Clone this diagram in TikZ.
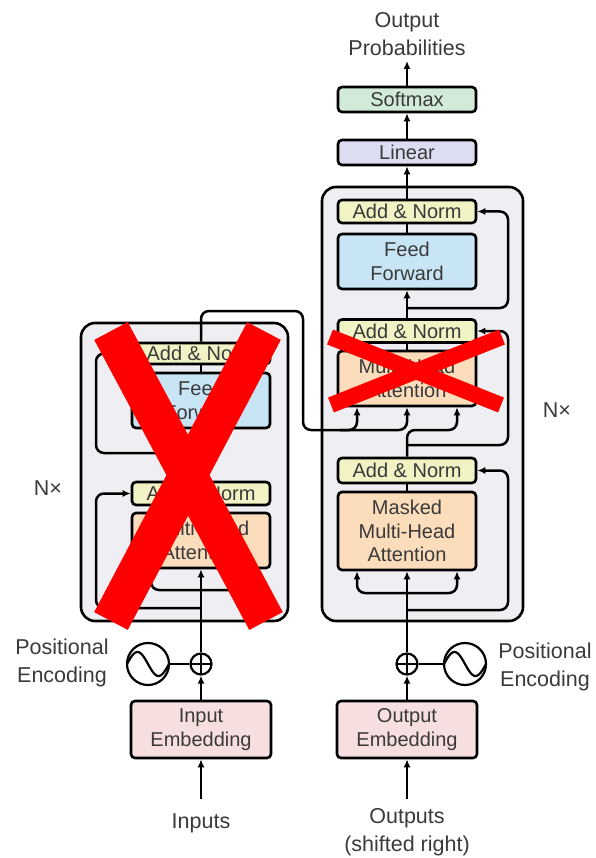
\documentclass[tikz,border=0pt]{standalone}
\usepackage{fontspec}
\setmainfont{Liberation Sans}
\usetikzlibrary{arrows.meta}
\definecolor{anfill}{HTML}{F1F3C4}
\definecolor{fffill}{HTML}{C7E5F5}
\definecolor{mhfill}{HTML}{FBDDBC}
\definecolor{emfill}{HTML}{F7DEDF}
\definecolor{linfill}{HTML}{DCDDF1}
\definecolor{smfill}{HTML}{D2EBD8}
\definecolor{bgfill}{HTML}{EFEFF3}
\definecolor{txt}{HTML}{3A3A3A}
\definecolor{xred}{HTML}{FF0000}
\newcommand{\bxfont}{\fontsize{20}{23.5}\selectfont}
\newcommand{\lbfont}{\fontsize{21.5}{28}\selectfont}
\begin{document}
\begin{tikzpicture}[x=1pt,y=-1pt,
  box/.style={draw=black, line width=2.6pt, rounded corners=4pt, minimum width=138pt,
    inner sep=0pt, align=center, font=\bxfont, text=txt},
  frame/.style={draw=black, line width=2.6pt, rounded corners=14pt, fill=bgfill, inner sep=0pt},
  wire/.style={line width=2.5pt, rounded corners=8pt},
  arr/.style={wire, -{Latex[length=8pt,width=7pt]}},
  lbl/.style={font=\lbfont, text=txt, align=center, inner sep=0pt},
  xstroke/.style={draw=xred, line width=#1}
]
\useasboundingbox (0,0) rectangle (595,858);

% ---------- frames ----------
\node[frame, minimum width=207pt, minimum height=298pt] (encBox) at (184.5,472) {};
\node[frame, minimum width=201pt, minimum height=434pt] (decBox) at (422.5,404) {};

% ---------- encoder blocks ----------
\node[box, fill=anfill, minimum height=21pt] (encAN2) at (201,353.5) {Add \& Norm};
\node[box, fill=fffill, minimum height=55pt] (encFF) at (201,400.5) {Feed\\Forward};
\node[box, fill=anfill, minimum height=23pt] (encAN1) at (201,493.5) {Add \& Norm};
\node[box, fill=mhfill, minimum height=55pt] (encMHA) at (201,540.5) {Multi-Head\\Attention};
\node[box, fill=emfill, minimum width=140pt, minimum height=57pt] (inEmb) at (201,729.5) {Input\\Embedding};
\node[draw, circle, line width=2.2pt, minimum size=21pt, inner sep=0pt] (encPlus) at (201,664) {};
\node[draw, circle, line width=2.2pt, minimum size=42pt, inner sep=0pt] (encSin) at (148,664) {};

% ---------- decoder blocks ----------
\node[box, fill=anfill, minimum height=23pt] (decAN3) at (407,211.5) {Add \& Norm};
\node[box, fill=fffill, minimum height=55pt] (decFF) at (407,261.5) {Feed\\Forward};
\node[box, fill=anfill, minimum height=23pt] (decAN2) at (407,331) {Add \& Norm};
\node[box, fill=mhfill, minimum height=55pt] (decMHA) at (407,378.5) {Multi-Head\\Attention};
\node[box, fill=anfill, minimum height=25pt] (decAN1) at (407,470.5) {Add \& Norm};
\node[box, fill=mhfill, minimum height=78pt] (decMMHA) at (407,531) {Masked\\Multi-Head\\Attention};
\node[box, fill=emfill, minimum width=140pt, minimum height=57pt] (outEmb) at (407,729.5) {Output\\Embedding};
\node[draw, circle, line width=2.2pt, minimum size=21pt, inner sep=0pt] (decPlus) at (407,664) {};
\node[draw, circle, line width=2.2pt, minimum size=42pt, inner sep=0pt] (decSin) at (465,664) {};
\node[box, fill=linfill, minimum height=25pt] (linear) at (407,152.5) {Linear};
\node[box, fill=smfill, minimum height=25pt] (softmax) at (407,99.5) {Softmax};

% ---------- labels ----------
\node[lbl] (outProb) at (407,34) {Output\\Probabilities};
\node[lbl] (inputs) at (201,823) {Inputs};
\node[lbl] (outputs) at (407,832) {Outputs\\(shifted right)};
\node[lbl] (peL) at (62,663) {Positional\\Encoding};
\node[lbl] (peR) at (545,667) {Positional\\Encoding};
\node[lbl] (nL) at (48,488) {N×};
\node[lbl] (nR) at (557,410) {N×};

% ---------- plus and sine symbols ----------
\draw[line width=2pt] ([yshift=-2pt]encPlus.north) -- ([yshift=2pt]encPlus.south) ([xshift=2pt]encPlus.west) -- ([xshift=-2pt]encPlus.east);
\draw[line width=2pt] ([yshift=-2pt]decPlus.north) -- ([yshift=2pt]decPlus.south) ([xshift=2pt]decPlus.west) -- ([xshift=-2pt]decPlus.east);
\draw[line width=2.2pt] plot[domain=0:360, samples=60, smooth] ({127+\x/360*42},{664-12*sin(\x)});
\draw[line width=2.2pt] plot[domain=0:360, samples=60, smooth] ({444+\x/360*42},{664-12*sin(\x)});
\draw[wire] (encSin.east) -- (encPlus.west);
\draw[wire] (decPlus.east) -- (decSin.west);

% ---------- coordinates ----------
\coordinate (inSrc) at (201,799);
\coordinate (outSrc) at (407,799);
\coordinate (probTop) at (407,61);

% ---------- encoder wiring ----------
\draw[arr] (inSrc) -- (inEmb.south);
\draw[arr] (inEmb.north) -- (encPlus.south);
\draw[arr] (encPlus.north) -- (encMHA.south);
\draw[arr] (201,608) -- (96,608) -- (96,493.5) -- (encAN1.west);
\draw[arr] (201,590) -- (151,590) -- ([xshift=-50pt]encMHA.south);
\draw[arr] (201,590) -- (251,590) -- ([xshift=50pt]encMHA.south);
\draw[wire] (encMHA.north) -- (encAN1.south);
\draw[arr] (encAN1.north) -- (encFF.south);
\draw[arr] (201,453) -- (96,453) -- (96,353.5) -- (encAN2.west);
\draw[wire] (encFF.north) -- (encAN2.south);
\draw[arr] (encAN2.north) -- (201,311) -- (303,311) -- (303,430) -- (357,430) -- ([xshift=-50pt]decMHA.south);
\draw[arr] (340,430) -- (407,430) -- (decMHA.south);

% ---------- decoder wiring ----------
\draw[arr] (outSrc) -- (outEmb.south);
\draw[arr] (outEmb.north) -- (decPlus.south);
\draw[arr] (decPlus.north) -- (decMMHA.south);
\draw[arr] (407,610) -- (508,610) -- (508,470.5) -- (decAN1.east);
\draw[arr] (407,593) -- (357,593) -- ([xshift=-50pt]decMMHA.south);
\draw[arr] (407,593) -- (457,593) -- ([xshift=50pt]decMMHA.south);
\draw[wire] (decMMHA.north) -- (decAN1.south);
\draw[arr] (decAN1.north) -- (407,430) -- (457,430) -- ([xshift=50pt]decMHA.south);
\draw[arr] (407,445) -- (508,445) -- (508,331) -- (decAN2.east);
\draw[wire] (decMHA.north) -- (decAN2.south);
\draw[arr] (decAN2.north) -- (decFF.south);
\draw[arr] (407,308) -- (508,308) -- (508,211.5) -- (decAN3.east);
\draw[wire] (decFF.north) -- (decAN3.south);
\draw[arr] (decAN3.north) -- (linear.south);
\draw[arr] (linear.north) -- (softmax.south);
\draw[arr] (softmax.north) -- (probTop);

% ---------- red crosses ----------
\coordinate (eA) at (111,331); \coordinate (eB) at (266,621);
\coordinate (eC) at (264,331); \coordinate (eD) at (111,621);
\draw[xstroke=38pt] (eA) -- (eB);
\draw[xstroke=38pt] (eC) -- (eD);
\coordinate (dA) at (330,337); \coordinate (dB) at (501,405);
\coordinate (dC) at (502,337); \coordinate (dD) at (331,405);
\draw[xstroke=16pt] (dA) -- (dB);
\draw[xstroke=16pt] (dC) -- (dD);
\end{tikzpicture}
\end{document}
